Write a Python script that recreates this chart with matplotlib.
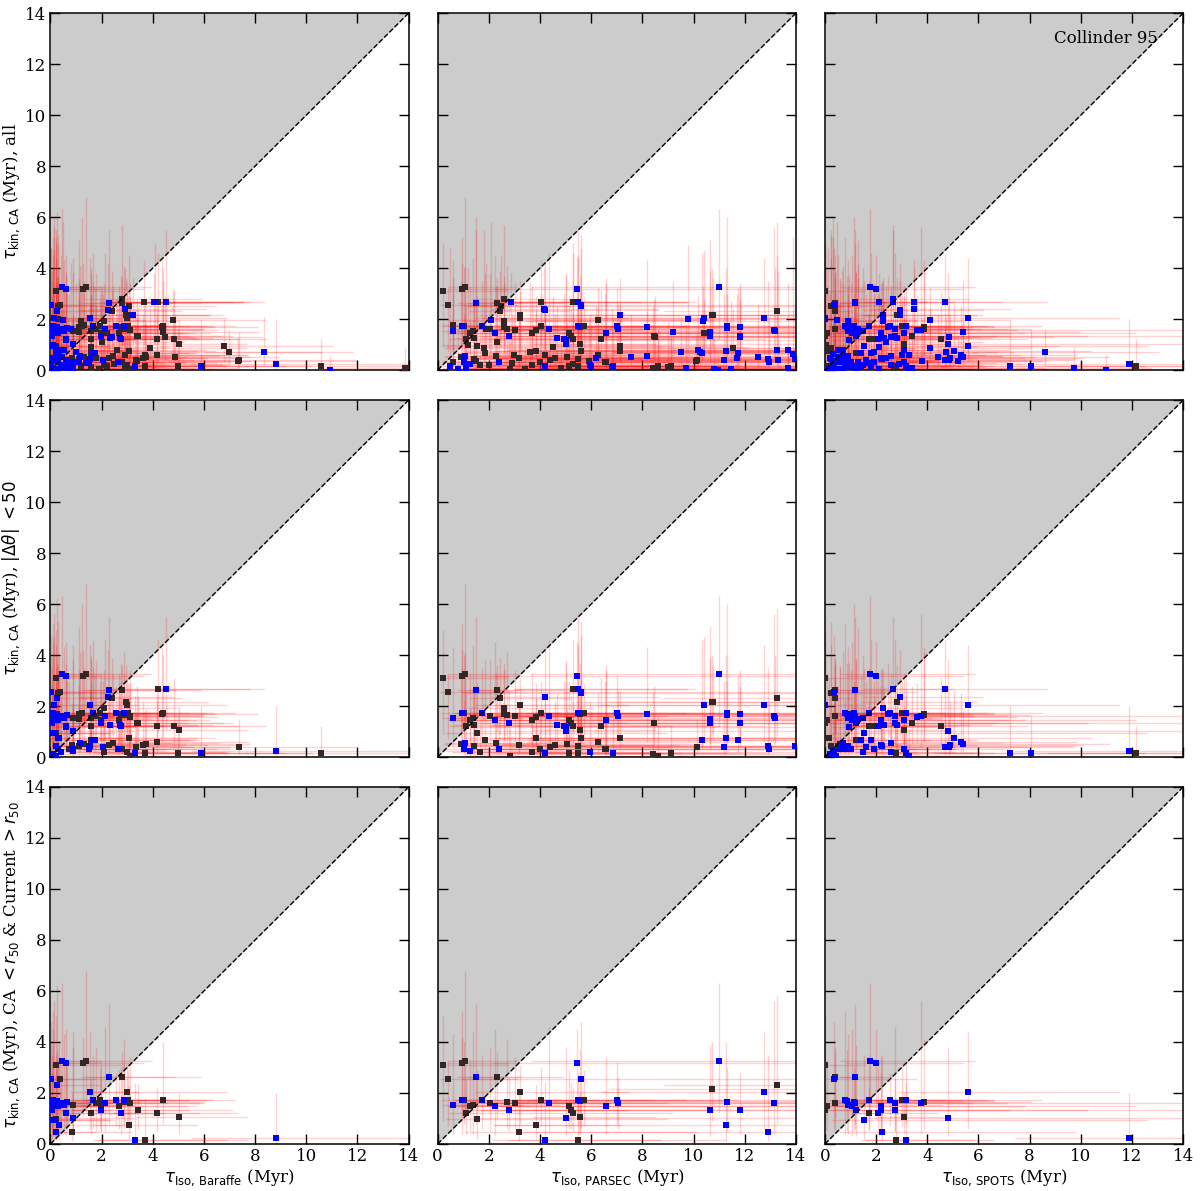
import numpy as np
import matplotlib.pyplot as plt

nan = np.nan

# group 3: stars in every row (CA < r50 & current > r50)
g3_tkin = [3.26, 3.17, 3.11, 3.17, 3.27, 2.56, 2.62, 2.62, 2.56, 2.30,
           2.31, 2.17, 2.04, 2.04, 1.71, 1.71, 1.60, 1.60, 1.72, 1.71,
           1.63, 1.71, 1.59, 1.71, 1.72, 1.68, 1.61, 1.53, 1.66, 1.59,
           1.47, 1.47, 1.34, 1.47, 1.47, 1.52, 1.34, 1.35, 1.32, 1.23,
           1.23, 1.20, 1.20, 1.04, 1.03, 0.96, 0.94, 0.94, 0.75, 0.75,
           0.48, 0.45, 0.24, 0.16, 0.16]
g3_tkin_lo = [1.2, 1.0, 0.9, 1.1, 1.3, 0.6, 0.8, 1.0, 0.7, 0.5,
              0.8, 0.9, 0.6, 0.8, 0.6, 0.7, 0.5, 0.5, 0.7, 0.8,
              0.6, 0.7, 0.6, 0.8, 0.4, 0.5, 0.6, 0.4, 0.5, 0.4,
              0.4, 0.3, 0.5, 0.5, 0.6, 0.4, 0.6, 0.3, 0.4, 0.5,
              0.4, 0.4, 0.3, 0.4, 0.3, 0.2, 0.2, 0.2, 0.2, 0.1,
              0.1, 0.1, 0.05, 0.03, 0.04]
g3_tkin_hi = [6.3, 4.5, 5.0, 4.2, 6.8, 4.8, 5.5, 3.6, 3.3, 6.2,
              5.8, 4.0, 4.4, 3.1, 3.5, 3.0, 3.8, 4.6, 2.8, 3.2,
              4.1, 2.9, 3.4, 4.0, 5.2, 3.7, 2.6, 4.3, 3.0, 5.6,
              3.4, 4.5, 2.6, 3.3, 2.9, 4.4, 2.4, 3.9, 2.8, 2.2,
              3.0, 2.5, 3.2, 2.0, 3.8, 2.9, 3.5, 2.7, 2.3, 4.0,
              2.0, 3.5, 2.0, 2.4, 1.8]
g3_bar = [0.46, 0.60, 0.21, 1.28, 1.41, 0.04, 2.29, 2.80, 0.36, 0.26,
          nan, nan, 1.56, 2.98, 1.68, 1.93, 1.80, 2.14, 2.55, 2.89,
          2.86, 3.03, 3.12, 4.39, 0.10, 0.25, 0.40, 0.55, 0.65, 0.15,
          0.30, 0.12, 1.98, 1.97, 2.70, 0.90, 3.41, 0.08, 0.05, 4.18,
          2.75, 1.60, 0.61, 5.03, 0.89, 0.21, 0.07, 0.17, 3.06, 0.33,
          0.86, 0.22, 8.81, 3.31, 3.71]
g3_par = [10.99, 5.45, 0.21, 0.94, 1.08, 5.60, 1.48, 2.32, 0.39, nan,
          13.26, 10.73, 12.74, 3.23, 1.74, 4.04, 2.06, 4.34, 5.50, 6.99,
          2.70, 5.71, 3.01, 1.03, 0.95, 5.55, 7.05, 0.61, 11.29, 13.13,
          6.57, 2.25, 2.78, 1.26, 5.14, 1.38, 5.21, 10.64, 11.80, 5.29,
          nan, 1.10, nan, 5.58, 5.00, 1.55, nan, nan, 3.86, 11.27,
          3.18, 12.90, nan, 4.21, 5.48]
g3_spo = [1.76, 2.00, 0.02, nan, nan, 0.35, 1.18, 0.38, nan, nan,
          nan, nan, 5.60, nan, 1.72, 3.02, 0.38, 2.75, 2.53, 3.16,
          3.88, nan, nan, nan, 0.80, 0.85, 1.18, 0.92, 1.13, 3.76,
          2.19, 1.05, 2.72, 0.09, nan, nan, 0.02, 1.21, 2.20, 1.73,
          2.07, nan, nan, 3.09, 4.82, nan, 1.54, nan, nan, nan,
          nan, 2.23, 11.89, 3.16, 2.77]
g3_col_bar = "bbkkkbbkkb" "kkbkbkkbbb" "kkkkbbbbbb" "bbbkkkkbbk" "bkbkbkbbkb" "kbbbk"
g3_col_par = "bbkkkbbkkk" "kkbkbkkbbb" "kkkkbkbbbb" "bbbkkkkbbk" "kkkkbkkkkb" "kbbbk"
g3_col_spo = "bbkkkbbkkb" "kkbkbkkbbb" "kkkkbbbbbb" "bbbkkkkbbk" "bkbkbkbbkb" "kbbbk"
g3_xfac = [3.0, 2.5, 6.0, 2.5, 2.5, 6.0, 2.0, 2.0, 5.0, 4.0,
           1.5, 1.6, 2.0, 2.2, 2.5, 2.0, 3.0, 2.0, 2.0, 2.0,
           2.0, 2.0, 1.8, 1.6, 8.0, 6.0, 5.0, 4.0, 4.0, 6.0,
           5.0, 6.0, 2.5, 2.5, 2.0, 3.0, 2.0, 7.0, 7.0, 1.7,
           2.0, 2.5, 4.0, 1.5, 3.0, 5.0, 7.0, 6.0, 1.8, 5.0,
           3.0, 4.0, 1.6, 2.0, 2.0]

# group 2: extra stars with |dtheta| < 50
g2_tkin = [2.65, 2.65, 2.33, 2.35, 2.52, 1.93, 2.03, 2.14, 1.70, 1.35,
           1.22, 0.39, 0.14, 0.14, 0.14, 0.60, 0.52, 0.46, 0.39, 0.76,
           0.30, 0.20, 0.05, 0.33, 0.55, 0.46, 0.39, 0.20, 0.68, 0.65,
           0.68, 0.33, 0.42, 0.52, 0.42, 0.55, 0.33, 0.22, 0.33, 0.10,
           0.05, 0.30, 0.18, 0.44, 0.76, 1.18, 1.50, 1.70, 1.74, 1.54,
           1.46, 1.57, 1.67, 1.24, 1.24, 1.20]
g2_tkin_lo = [1.0, 1.1, 0.9, 0.8, 0.8, 0.7, 0.6, 0.7, 0.6, 0.5,
              0.4, 0.1, 0.05, 0.05, 0.05, 0.2, 0.2, 0.2, 0.1, 0.3,
              0.1, 0.05, 0.01, 0.1, 0.2, 0.2, 0.1, 0.05, 0.3, 0.2,
              0.3, 0.1, 0.1, 0.2, 0.1, 0.2, 0.1, 0.05, 0.1, 0.02,
              0.01, 0.1, 0.05, 0.1, 0.2, 0.4, 0.5, 0.6, 0.6, 0.5,
              0.5, 0.5, 0.6, 0.4, 0.4, 0.4]
g2_tkin_hi = [4.6, 5.5, 3.9, 4.2, 5.3, 3.4, 4.7, 3.6, 4.3, 2.8,
              3.1, 1.5, 1.2, 2.0, 1.6, 2.5, 1.9, 2.2, 1.7, 2.6,
              1.8, 1.4, 1.1, 2.4, 3.3, 2.0, 3.0, 1.5, 4.6, 3.2,
              3.8, 2.1, 2.6, 3.5, 2.8, 4.1, 2.2, 1.9, 3.0, 2.5,
              1.6, 3.6, 2.2, 4.4, 3.1, 3.7, 5.1, 3.4, 6.0, 4.0,
              3.3, 2.9, 3.7, 2.7, 2.5, 3.0]
g2_bar = [4.20, 4.53, 2.42, 2.27, 0.30, 2.10, 0.15, 2.95, 4.37, 3.40,
          4.84, 7.36, 10.59, 5.89, 4.99, 4.17, 3.75, 3.60, 3.36, 3.07,
          2.80, 3.00, 3.10, 2.64, 2.45, 2.29, 2.06, 2.08, 1.67, 1.73,
          1.60, 1.51, 1.54, 1.30, 1.10, 1.15, 0.89, 0.89, 0.73, 0.10,
          0.20, 0.30, 0.40, 0.21, 0.31, 0.60, 1.12, 1.10, 1.25, 1.60,
          2.68, 3.12, 2.77, 2.32, 2.72, 1.57]
g2_par = [5.28, 5.47, 2.43, 4.18, 5.60, 2.60, 10.39, 10.75, 8.19, 8.46,
          6.37, 10.15, 9.10, 6.85, 5.15, 6.28, 5.04, 4.58, 4.38, 7.11,
          4.00, 3.70, 2.83, 2.39, 2.27, 3.19, 11.20, 1.65, 10.32, 11.72,
          1.84, 12.95, 13.97, 0.92, 1.43, 1.06, 1.01, 1.26, 6.53, 8.40,
          8.60, 6.57, 5.96, 5.48, 5.60, 5.00, 10.65, 11.83, 11.31, 13.17,
          3.70, 3.86, 2.60, 1.43, 4.65, 4.92]
g2_spo = [4.69, 2.67, 0.38, 2.94, 0.22, 2.28, 0.01, 2.83, 3.88, 3.40,
          4.54, 4.83, 12.17, 7.23, 8.05, 5.33, 5.41, 4.90, 4.70, 5.05,
          3.10, 2.60, 3.30, 1.90, 2.60, 2.20, 1.60, 1.50, 1.80, 1.40,
          1.20, 1.00, 0.90, 0.60, 0.50, 0.70, 0.80, 0.30, 0.40, 0.20,
          0.45, 0.60, 0.35, 0.25, 0.15, 0.95, 1.30, 1.00, 1.15, 1.50,
          3.10, 3.60, 2.45, 2.30, 2.80, 1.90]
g2_col_bar = "kbkbkkbkkk" "kkkbkkkkkk" "kkkbkkbkbb" "kbbkkbbbkb" "bbbbbbkkkk" "kkkbbk"
g2_col_par = "kbkbbkbkbk" "kkkbkkkkkk" "kkkbkkbkbb" "kbbkkbbbkk" "kkbkkbbbbb" "kkkkbb"
g2_col_spo = "bbkbkbbkkk" "kbkbbbbbbb" "bbbbbbbbbb" "kbbkkbbbkb" "bbbkkbbbbb" "bbbbbk"
g2_xfac = [1.8, 1.8, 2.0, 2.0, 5.0, 2.2, 6.0, 2.0, 1.8, 1.9,
           1.7, 1.6, 1.4, 1.7, 1.8, 1.8, 2.0, 2.0, 2.0, 2.0,
           2.2, 2.2, 2.0, 2.5, 2.5, 2.5, 2.5, 3.0, 3.0, 3.0,
           3.0, 3.0, 3.0, 3.5, 3.5, 3.5, 4.0, 4.0, 4.0, 8.0,
           8.0, 6.0, 6.0, 6.0, 6.0, 4.0, 3.0, 3.0, 3.0, 2.5,
           2.2, 2.0, 2.2, 2.3, 2.2, 2.5]

# group 1: remaining stars (top row only)
g1_tkin = [0.96, 0.70, 0.37, 0.70, 0.01, 0.08, 1.97, 0.50, 1.50, 1.30,
           2.66, 2.66, 2.66, 2.53, 2.17, 2.78, 2.14, 2.40, 1.98, 2.01,
           1.94, 1.44, 1.29, 0.88, 0.80, 0.78, 0.80, 0.62, 0.48, 0.52,
           0.40, 0.55, 0.09, 0.06, 0.04, 0.15, 0.12, 0.16, 0.06, 0.13,
           0.16, 0.46, 0.25, 0.10, 0.35, 0.60, 0.05, 0.28, 0.70, 0.85,
           1.00, 1.10, 0.90, 0.20, 0.03, 0.08, 0.30, 0.15, 0.35, 0.60,
           1.62, 1.75]
g1_tkin_lo = [0.3, 0.2, 0.1, 0.2, 0.0, 0.0, 0.6, 0.2, 0.5, 0.4,
              1.0, 1.0, 1.0, 0.9, 0.7, 1.0, 0.7, 0.8, 0.6, 0.6,
              0.6, 0.5, 0.4, 0.3, 0.2, 0.2, 0.2, 0.2, 0.1, 0.1,
              0.1, 0.1, 0.0, 0.0, 0.0, 0.0, 0.0, 0.0, 0.0, 0.0,
              0.0, 0.1, 0.0, 0.0, 0.1, 0.2, 0.0, 0.1, 0.2, 0.3,
              0.3, 0.4, 0.3, 0.0, 0.0, 0.0, 0.1, 0.0, 0.1, 0.2,
              0.5, 0.6]
g1_tkin_hi = [2.0, 1.6, 1.3, 2.1, 0.6, 0.9, 3.2, 2.2, 3.5, 2.9,
              4.3, 3.8, 5.0, 4.5, 3.5, 5.7, 3.6, 4.0, 5.8, 4.9,
              3.3, 2.8, 3.1, 2.4, 2.9, 4.5, 3.4, 5.2, 3.0, 2.6,
              3.9, 2.3, 1.8, 1.2, 2.7, 1.5, 1.9, 1.4, 1.0, 2.4,
              1.7, 2.5, 1.6, 1.3, 2.0, 2.7, 0.9, 2.2, 3.4, 5.5,
              4.0, 3.3, 2.9, 2.1, 1.6, 2.0, 3.6, 4.8, 6.0, 2.2,
              4.2, 3.0]
g1_bar = [6.78, 6.98, 7.35, 8.36, 10.93, 13.87, 4.81, 4.85, 4.40, 4.47,
          3.64, 4.04, 4.08, 3.08, 2.98, 2.81, 3.23, 2.90, 0.50, 0.30,
          1.20, 2.20, 2.40, 3.90, 2.60, 0.40, 0.55, 0.20, 0.10, 0.45,
          0.60, 0.35, 0.05, 0.25, 0.35, 1.20, 1.60, 2.20, 0.15, 0.50,
          0.65, 1.80, 2.50, 2.90, 3.40, 3.70, 1.90, 1.40, 1.00, 0.20,
          0.10, 2.00, 1.60, 0.70, 0.60, 0.90, 1.10, 0.02, 0.15, 2.90,
          0.80, 1.30]
g1_par = [7.11, 10.24, 10.11, 9.52, 10.95, 13.70, 6.25, 7.55, 9.20, 8.48,
          4.04, 2.86, 5.27, 2.47, 3.22, 2.60, 7.13, 4.16, 2.09, 9.80,
          10.35, 10.41, 11.80, 11.55, 10.17, 13.26, 13.70, 13.90, 11.70, 12.50,
          13.30, 8.18, 9.69, 10.80, 11.45, 8.60, 9.00, 9.10, 13.70, 6.83,
          6.00, 6.20, 5.30, 4.80, 5.90, 4.20, 3.40, 2.90, 3.60, 1.80,
          1.20, 2.30, 4.50, 2.00, 0.80, 1.10, 0.60, 0.50, 1.50, 3.00,
          1.90, 0.60]
g1_spo = [5.60, 8.61, 5.20, 4.75, 10.98, 9.72, 4.10, 4.40, 5.41, 4.83,
          3.49, 2.10, 1.19, 0.40, 2.94, 2.67, 2.28, 3.49, 0.48, 0.01,
          0.90, 2.21, 2.60, 4.10, 3.10, 0.50, 0.70, 0.30, 0.20, 0.55,
          0.65, 0.90, 0.15, 0.40, 0.60, 1.10, 1.40, 1.80, 2.10, 0.80,
          0.95, 2.40, 2.90, 3.40, 3.80, 3.00, 2.70, 1.70, 1.90, 0.25,
          0.05, 2.40, 2.10, 1.00, 0.70, 1.20, 1.30, 0.10, 0.30, 3.30,
          1.30, 0.90]
g1_col_bar = "kkkbbkkkkk" "kkbkkkbbbk" "kkbkkbbbbb" "bbbbbkkkbb" "bkkkkkkbbb" "bkkbbbbbbk" "bk"
g1_col_par = "kkkbbbkbbk" "kbkkkkbbbb" "bkbkbbbbbb" "bbbbbkkkbb" "bbkkkkkkkk" "kkkkbbkbkk" "kk"
g1_col_spo = "bbbbbbbbbb" "bbbkbbbbbb" "bbbbbbbbbb" "bbbbbbbbbb" "bbbbbbkbbk" "kbbbbbbkbb" "bb"
g1_xfac = [1.6, 1.5, 1.6, 1.4, 1.3, 1.3, 1.7, 1.8, 1.8, 1.8,
           1.9, 1.8, 1.8, 2.0, 2.0, 2.0, 2.0, 2.0, 5.0, 5.0,
           3.0, 2.2, 2.2, 1.9, 2.2, 5.0, 5.0, 7.0, 8.0, 6.0,
           5.0, 6.0, 8.0, 8.0, 7.0, 3.0, 3.0, 2.5, 8.0, 6.0,
           5.0, 3.0, 2.5, 2.4, 2.2, 2.0, 3.0, 3.5, 3.5, 7.0,
           8.0, 2.4, 2.6, 5.0, 6.0, 5.0, 4.0, 9.0, 8.0, 2.2,
           4.0, 3.0]

models = ['Baraffe', 'PARSEC', 'SPOTS']
row_labels = [r'$\tau_{\rm kin,\,CA}$ (Myr), all',
              r'$\tau_{\rm kin,\,CA}$ (Myr), $|\Delta\theta|$ $<50$',
              r'$\tau_{\rm kin,\,CA}$ (Myr), CA $<r_{50}$ & Current $>r_{50}$']
cluster_name = 'Collinder 95'

groups = {
    1: dict(tkin=g1_tkin, lo=g1_tkin_lo, hi=g1_tkin_hi, fac=g1_xfac,
            x=[g1_bar, g1_par, g1_spo], c=[g1_col_bar, g1_col_par, g1_col_spo]),
    2: dict(tkin=g2_tkin, lo=g2_tkin_lo, hi=g2_tkin_hi, fac=g2_xfac,
            x=[g2_bar, g2_par, g2_spo], c=[g2_col_bar, g2_col_par, g2_col_spo]),
    3: dict(tkin=g3_tkin, lo=g3_tkin_lo, hi=g3_tkin_hi, fac=g3_xfac,
            x=[g3_bar, g3_par, g3_spo], c=[g3_col_bar, g3_col_par, g3_col_spo]),
}
row_groups = [[1, 2, 3], [2, 3], [3]]

plt.rcParams['font.family'] = 'serif'
plt.rcParams['font.serif'] = ['DejaVu Serif']
plt.rcParams['mathtext.fontset'] = 'dejavusans'

fig, axes = plt.subplots(3, 3, figsize=(12, 11.91), dpi=100)
fig.subplots_adjust(left=0.042, right=0.986, bottom=0.0395, top=0.989,
                    wspace=0.081, hspace=0.084)

for r in range(3):
    for m in range(3):
        ax = axes[r, m]
        # collect the stars of this row for this model
        y = []; ylo = []; yhi = []; x = []; f = []; col = []
        for g in row_groups[r]:
            d = groups[g]
            y += d['tkin']; ylo += d['lo']; yhi += d['hi']; f += d['fac']
            x += d['x'][m]; col += list(d['c'][m])
        y = np.array(y); ylo = np.array(ylo); yhi = np.array(yhi)
        x = np.array(x); f = np.array(f); col = np.array(col)
        ok = np.isfinite(x)
        y, ylo, yhi, x, f, col = y[ok], ylo[ok], yhi[ok], x[ok], f[ok], col[ok]

        ax.fill_between([0, 14], [0, 14], 14, color='#cccccc', lw=0, zorder=0)
        xerr = [x * (1 - 1 / f), (x + 0.3) * (f - 1)]
        yerr = [np.clip(y - ylo, 0, None), np.clip(yhi - y, 0, None)]
        ax.errorbar(x, y, xerr=xerr, yerr=yerr, fmt='none', ecolor='red',
                    elinewidth=1.0, alpha=0.18, zorder=2)
        k = col == 'k'
        ax.scatter(x[k], y[k], marker='s', s=13, color='#332626', lw=0, zorder=4)
        ax.scatter(x[~k], y[~k], marker='s', s=13, color='#0000ff', lw=0, zorder=4)
        ax.plot([0, 14], [0, 14], ls='--', color='k', lw=1.0, zorder=5)

        ax.set_xlim(0, 14)
        ax.set_ylim(0, 14)
        ax.set_xticks(np.arange(0, 15, 2))
        ax.set_yticks(np.arange(0, 15, 2))
        ax.tick_params(direction='in', top=True, right=True, length=7,
                       width=1, labelsize=12, pad=3)
        for sp in ax.spines.values():
            sp.set_linewidth(1.1)
        if r < 2:
            ax.set_xticklabels([])
        else:
            ax.set_xlabel(r'$\tau_{\rm Iso,\,%s}$ (Myr)' % models[m],
                          fontsize=12, labelpad=2)
        if m > 0:
            ax.set_yticklabels([])
        else:
            ax.set_ylabel(row_labels[r], fontsize=12, labelpad=2)

axes[0, 2].text(0.93, 0.93, cluster_name, transform=axes[0, 2].transAxes,
                ha='right', va='center', fontsize=12)

fig.savefig('out.png', dpi=100)
